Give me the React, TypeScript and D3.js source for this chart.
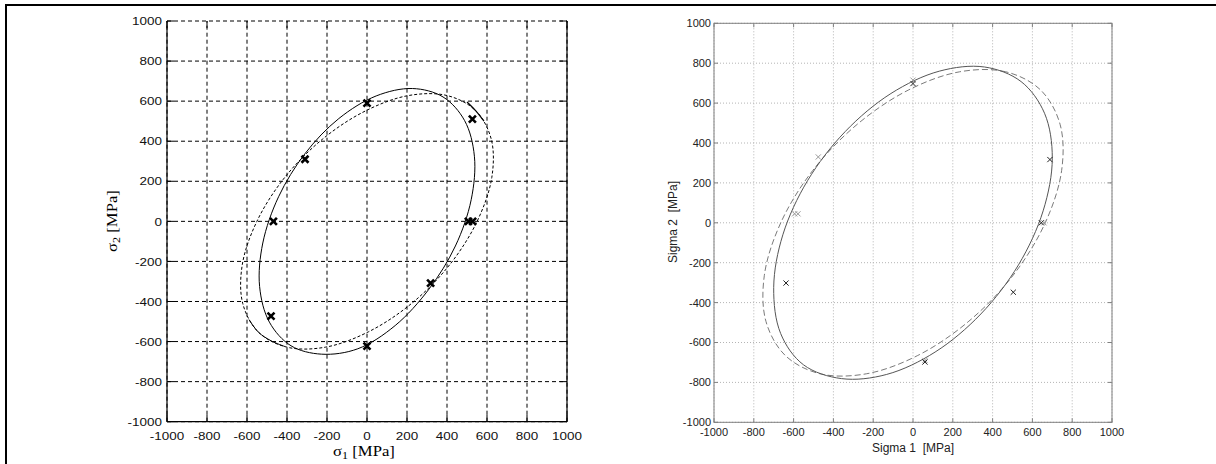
import React from 'react';
import * as d3 from 'd3';

// ---------- data ----------
const tickValues = [-1000, -800, -600, -400, -200, 0, 200, 400, 600, 800, 1000];

// left chart (σ1, σ2)
const leftSolid: [number, number][] = [
  [380, 621], [227, 663], [46, 626], [-141, 513], [-310, 338], [-442, 123], [-521, -108],
  [-537, -325], [-488, -503], [-380, -621], [-227, -663], [-46, -636], [141, -520], [310, -338],
  [442, -123], [521, 108], [537, 325], [488, 503],
];
const leftDashed: [number, number][] = [
  [543, 553], [400, 628], [208, 628], [-8, 551], [-224, 409], [-413, 217], [-551, -1],
  [-624, -219], [-621, -411], [-543, -553], [-400, -628], [-208, -628], [8, -551], [224, -409],
  [413, -217], [551, 1], [624, 219], [621, 411],
];
const leftSolidExtraA: [number, number][] = [[500, 596], [543, 553], [585, 500]];
const leftSolidExtraB: [number, number][] = [[-590, -490], [-543, -553], [-480, -596], [-410, -625]];
const leftMarkers: [number, number][] = [
  [0, 590], [-310, 310], [527, 510], [-468, 0], [-480, -473], [0, -623], [318, -308], [507, 0], [528, 0],
];

// right chart (Sigma 1, Sigma 2)
const rightSolid: [number, number][] = [
  [543, 708], [359, 781], [132, 760], [-111, 648], [-341, 457], [-530, 211], [-654, -60],
  [-700, -324], [-665, -555], [-550, -712], [-359, -781], [-132, -760], [111, -648], [341, -457],
  [530, -211], [654, 60], [700, 324], [661, 549],
];
const rightDashed: [number, number][] = [
  [641, 666], [466, 757], [235, 757], [-24, 665], [-281, 493], [-504, 262], [-665, -1],
  [-747, -263], [-739, -494], [-641, -666], [-466, -757], [-235, -757], [24, -665], [281, -493],
  [504, -262], [665, 1], [747, 263], [739, 494],
];
const rightMarkersDark: [number, number][] = [
  [0, 698], [688, 317], [645, 0], [504, -348], [60, -698], [-638, -302],
];
const rightMarkersGray: [number, number][] = [
  [0, 715], [-476, 330], [-595, 45], [-578, 45], [658, 0], [60, -690],
];

const SANS = '"Liberation Sans", Arial, Helvetica, sans-serif';
const SERIF = '"Liberation Serif", "Times New Roman", serif';

export default function App() {
  const W = 1216, H = 464;

  const lx = d3.scaleLinear().domain([-1000, 1000]).range([167, 567]);
  const ly = d3.scaleLinear().domain([-1000, 1000]).range([421.7, 21]);
  const rx = d3.scaleLinear().domain([-1000, 1000]).range([714, 1112]);
  const ry = d3.scaleLinear().domain([-1000, 1000]).range([422.3, 23.3]);

  const closedL = d3.line<[number, number]>().x(d => lx(d[0])).y(d => ly(d[1])).curve(d3.curveCatmullRomClosed);
  const openL = d3.line<[number, number]>().x(d => lx(d[0])).y(d => ly(d[1])).curve(d3.curveCatmullRom);
  const closedR = d3.line<[number, number]>().x(d => rx(d[0])).y(d => ry(d[1])).curve(d3.curveCatmullRomClosed);

  const xMark = (cx: number, cy: number, s: number) =>
    `M${cx - s},${cy - s}L${cx + s},${cy + s}M${cx - s},${cy + s}L${cx + s},${cy - s}`;

  return (
    <svg width={W} height={H} style={{ position: 'absolute', left: 0, top: 0, background: '#fff' }}>
      <rect x={0} y={0} width={W} height={H} fill="#fff" />
      <line x1={5} y1={5} x2={W} y2={5} stroke="#000" strokeWidth={2} />
      <line x1={6} y1={4} x2={6} y2={H} stroke="#000" strokeWidth={2} />

      {/* ---------- LEFT CHART ---------- */}
      <g>
        {tickValues.map(t => (
          <line key={'lgx' + t} x1={lx(t)} x2={lx(t)} y1={ly(-1000)} y2={ly(1000)}
            stroke="#000" strokeWidth={1} strokeDasharray="4,3" />
        ))}
        {tickValues.map(t => (
          <line key={'lgy' + t} x1={lx(-1000)} x2={lx(1000)} y1={ly(t)} y2={ly(t)}
            stroke="#000" strokeWidth={1} strokeDasharray="4,3" />
        ))}
        {tickValues.map(t => (
          <g key={'ltk' + t} stroke="#000" strokeWidth={1}>
            <line x1={lx(t)} x2={lx(t)} y1={ly(-1000)} y2={ly(-1000) - 7} />
            <line x1={lx(t)} x2={lx(t)} y1={ly(1000)} y2={ly(1000) + 7} />
            <line x1={lx(-1000)} x2={lx(-1000) + 7} y1={ly(t)} y2={ly(t)} />
            <line x1={lx(1000)} x2={lx(1000) - 7} y1={ly(t)} y2={ly(t)} />
          </g>
        ))}
        <line x1={lx(-1000)} x2={lx(-1000)} y1={ly(-1000)} y2={ly(1000)} stroke="#000" strokeWidth={1.2} />
        <line x1={lx(-1000)} x2={lx(1000)} y1={ly(-1000)} y2={ly(-1000)} stroke="#000" strokeWidth={1.2} />
        <line x1={lx(1000)} x2={lx(1000)} y1={ly(-1000)} y2={ly(1000)} stroke="#000" strokeWidth={1.2} />

        <path d={closedL(leftDashed) || ''} fill="none" stroke="#000" strokeWidth={1} strokeDasharray="3,2" />
        <path d={closedL(leftSolid) || ''} fill="none" stroke="#000" strokeWidth={1} />
        <path d={openL(leftSolidExtraA) || ''} fill="none" stroke="#000" strokeWidth={1.2} />
        <path d={openL(leftSolidExtraB) || ''} fill="none" stroke="#000" strokeWidth={1} />

        {leftMarkers.map((d, i) => (
          <path key={'lm' + i} d={xMark(lx(d[0]), ly(d[1]), 3.5)} stroke="#000" strokeWidth={2.6} fill="none" />
        ))}

        {tickValues.map(t => (
          <text key={'lyt' + t} transform={`translate(162,${ly(t) + 4.2}) scale(1.14,1)`} textAnchor="end"
            fontFamily={SANS} fontSize={11.8} fill="#111">{t}</text>
        ))}
        {tickValues.map(t => (
          <text key={'lxt' + t} transform={`translate(${lx(t)},439.5) scale(1.14,1)`} textAnchor="middle"
            fontFamily={SANS} fontSize={11.8} fill="#111">{t}</text>
        ))}

        <text transform="translate(364,456) scale(1.15,1)" textAnchor="middle" fontFamily={SERIF} fontSize={14.5} fill="#000">
          σ<tspan fontSize={10.5} dy={2.5}>1</tspan><tspan dy={-2.5}> [MPa]</tspan>
        </text>
        <text transform="translate(117,221) rotate(-90) scale(1.15,1)" textAnchor="middle" fontFamily={SERIF} fontSize={14.5} fill="#000">
          σ<tspan fontSize={10.5} dy={2.5}>2</tspan><tspan dy={-2.5}> [MPa]</tspan>
        </text>
      </g>

      {/* ---------- RIGHT CHART ---------- */}
      <g>
        {tickValues.map(t => (
          <line key={'rgx' + t} x1={rx(t)} x2={rx(t)} y1={ry(-1000)} y2={ry(1000)}
            stroke="#b4b4b4" strokeWidth={1} strokeDasharray="1,2" />
        ))}
        {tickValues.map(t => (
          <line key={'rgy' + t} x1={rx(-1000)} x2={rx(1000)} y1={ry(t)} y2={ry(t)}
            stroke="#b4b4b4" strokeWidth={1} strokeDasharray="1,2" />
        ))}
        {tickValues.map(t => (
          <g key={'rtk' + t} stroke="#808080" strokeWidth={1}>
            <line x1={rx(t)} x2={rx(t)} y1={ry(-1000)} y2={ry(-1000) - 4} />
            <line x1={rx(t)} x2={rx(t)} y1={ry(1000)} y2={ry(1000) + 4} />
            <line x1={rx(-1000)} x2={rx(-1000) + 4} y1={ry(t)} y2={ry(t)} />
            <line x1={rx(1000)} x2={rx(1000) - 4} y1={ry(t)} y2={ry(t)} />
          </g>
        ))}
        <rect x={rx(-1000)} y={ry(1000)} width={rx(1000) - rx(-1000)} height={ry(-1000) - ry(1000)}
          fill="none" stroke="#808080" strokeWidth={1} />

        <path d={closedR(rightDashed) || ''} fill="none" stroke="#7a7a7a" strokeWidth={1} strokeDasharray="6,3" />
        <path d={closedR(rightSolid) || ''} fill="none" stroke="#555" strokeWidth={1} />

        {rightMarkersGray.map((d, i) => (
          <path key={'rmg' + i} d={xMark(rx(d[0]), ry(d[1]), 2.6)} stroke="#9a9a9a" strokeWidth={1} fill="none" />
        ))}
        {rightMarkersDark.map((d, i) => (
          <path key={'rmd' + i} d={xMark(rx(d[0]), ry(d[1]), 2.6)} stroke="#222" strokeWidth={1} fill="none" />
        ))}

        {tickValues.map(t => (
          <text key={'ryt' + t} x={711} y={ry(t)} dy="0.36em" textAnchor="end"
            fontFamily={SANS} fontSize={11} fill="#222">{t}</text>
        ))}
        {tickValues.map(t => (
          <text key={'rxt' + t} x={rx(t)} y={436} textAnchor="middle"
            fontFamily={SANS} fontSize={11} fill="#222">{t}</text>
        ))}

        <text x={913} y={452} textAnchor="middle" fontFamily={SANS} fontSize={12} fill="#222"
          style={{ whiteSpace: 'pre' }}>{'Sigma 1  [MPa]'}</text>
        <text transform="translate(677,222) rotate(-90)" textAnchor="middle" fontFamily={SANS} fontSize={12} fill="#222"
          style={{ whiteSpace: 'pre' }}>{'Sigma 2  [MPa]'}</text>
      </g>
    </svg>
  );
}
